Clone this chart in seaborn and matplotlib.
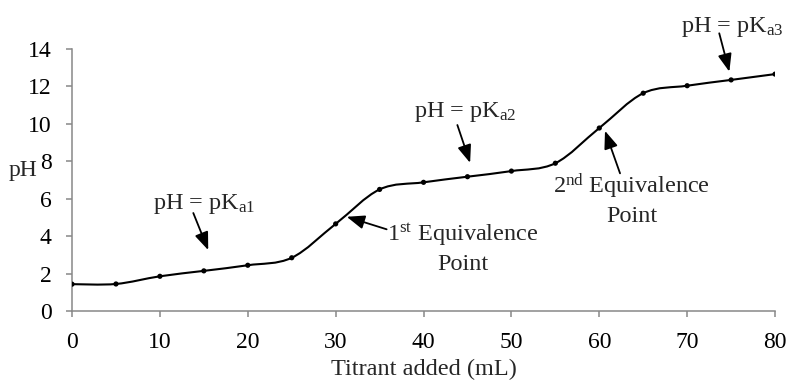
import numpy as np
import pandas as pd
import matplotlib
matplotlib.use('Agg')
import matplotlib.pyplot as plt
from matplotlib.path import Path
from matplotlib.patches import PathPatch
import seaborn as sns

# titration data
titrant_ml = [0, 5, 10, 15, 20, 25, 30, 35, 40, 45, 50, 55, 60, 65, 70, 75, 80]
ph_values = [1.44, 1.45, 1.86, 2.15, 2.45, 2.85, 4.66, 6.50, 6.88, 7.18, 7.48, 7.90,
             9.78, 11.64, 12.04, 12.35, 12.66]

x_ticks = [0, 10, 20, 30, 40, 50, 60, 70, 80]
y_ticks = [0, 2, 4, 6, 8, 10, 12, 14]

# annotation labels: (text, text position, arrow tail, arrow tip)
pka_labels = [
    (r'pH = pK$_{\mathrm{a1}}$', (15.0, 5.45), (13.8, 5.24), (15.5, 3.26)),
    (r'pH = pK$_{\mathrm{a2}}$', (44.7, 10.35), (43.85, 9.94), (45.3, 7.92)),
    (r'pH = pK$_{\mathrm{a3}}$', (75.1, 14.93), (73.65, 14.84), (74.8, 12.79)),
]
eq_labels = [
    (r'1$^{\mathrm{st}}$ Equivalence', 'Point', (44.5, 3.74), (44.5, 2.19),
     (35.8, 4.37), (31.26, 5.04)),
    (r'2$^{\mathrm{nd}}$ Equivalence', 'Point', (63.7, 6.29), (63.7, 4.77),
     (62.36, 7.36), (60.65, 9.63)),
]

df = pd.DataFrame({'titrant': titrant_ml, 'ph': ph_values})

sns.set_theme(style='ticks')
plt.rcParams['font.family'] = ['Liberation Serif', 'DejaVu Serif']
plt.rcParams['mathtext.fontset'] = 'custom'
plt.rcParams['mathtext.rm'] = 'Liberation Serif'
plt.rcParams['mathtext.it'] = 'Liberation Serif:italic'

fig = plt.figure(figsize=(7.95, 3.86), dpi=100)
ax = fig.add_axes([0.0906, 0.194, 0.8843, 0.679])

# smoothed line like a spreadsheet "smoothed line" (Catmull-Rom bezier through the points)
pts = df[['titrant', 'ph']].to_numpy()
verts = [pts[0]]
codes = [Path.MOVETO]
for i in range(len(pts) - 1):
    p0 = pts[max(i - 1, 0)]
    p1 = pts[i]
    p2 = pts[i + 1]
    p3 = pts[min(i + 2, len(pts) - 1)]
    verts += [p1 + (p2 - p0) / 6, p2 - (p3 - p1) / 6, p2]
    codes += [Path.CURVE4] * 3
ax.add_patch(PathPatch(Path(verts, codes), fill=False, edgecolor='black', lw=1.5, zorder=2))

sns.scatterplot(data=df, x='titrant', y='ph', ax=ax, color='black', s=14,
                edgecolor='none', zorder=3, legend=False)

ax.set_xlim(0, 80)
ax.set_ylim(0, 14)
ax.set_xticks(x_ticks)
ax.set_yticks(y_ticks)

for side in ['top', 'right']:
    ax.spines[side].set_visible(False)
for side in ['left', 'bottom']:
    ax.spines[side].set_color('#888888')
    ax.spines[side].set_linewidth(1.1)
ax.spines['left'].set_bounds(0, 14)

ax.tick_params(axis='both', colors='#888888', labelcolor='black', length=4.2,
               width=1.1, labelsize=17)
ax.tick_params(axis='x', pad=11)
ax.tick_params(axis='y', pad=10.5)

ax.set_xlabel('Titrant added (mL)', fontsize=17.5, labelpad=4)
ax.set_ylabel('pH', fontsize=17, rotation=0, ha='right', va='center')
ax.yaxis.set_label_coords(-0.05, 0.538)

arrow_style = dict(arrowstyle='-|>,head_length=0.9,head_width=0.35', color='black',
                   lw=1.3, shrinkA=0, shrinkB=0)

for text, pos, tail, tip in pka_labels:
    ax.text(pos[0], pos[1], text, fontsize=17.5, ha='center', va='baseline', clip_on=False)
    ax.annotate('', xy=tip, xytext=tail, arrowprops=arrow_style, annotation_clip=False)

for line1, line2, pos1, pos2, tail, tip in eq_labels:
    ax.text(pos1[0], pos1[1], line1, fontsize=17.5, ha='center', va='baseline')
    ax.text(pos2[0], pos2[1], line2, fontsize=17.5, ha='center', va='baseline')
    ax.annotate('', xy=tip, xytext=tail, arrowprops=arrow_style)

fig.savefig('out.png', dpi=100)
